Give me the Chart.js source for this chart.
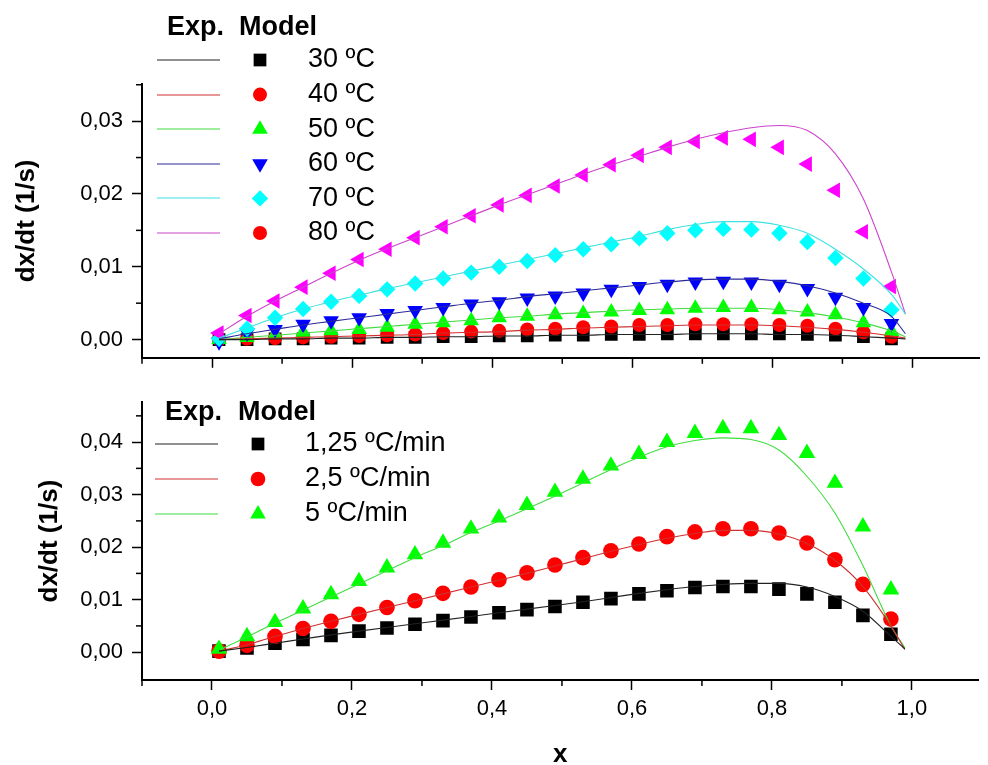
<!DOCTYPE html>
<html>
<head>
<meta charset="utf-8">
<script src="https://cdn.jsdelivr.net/npm/chart.js@4.4.1/dist/chart.umd.min.js"></script>
<style>
  body { margin: 0; background: #fff; }
  #wrap { position: relative; width: 988px; height: 765px; }
  canvas { position: absolute; left: 0; }
</style>
</head>
<body>
<div id="wrap">
  <canvas id="topChart" width="988" height="380" style="top:0"></canvas>
  <canvas id="bottomChart" width="988" height="385" style="top:380px"></canvas>
</div>
<script>
/* ===== DATA ===== */
const xExp = [0.01, 0.05, 0.09, 0.13, 0.17, 0.21, 0.25, 0.29, 0.33, 0.37, 0.41, 0.45, 0.49,
              0.53, 0.57, 0.61, 0.65, 0.69, 0.73, 0.77, 0.81, 0.85, 0.89, 0.93, 0.97];
const xModel = [0.01, 0.05, 0.09, 0.13, 0.17, 0.21, 0.25, 0.29, 0.33, 0.37, 0.41, 0.45, 0.49,
                0.53, 0.57, 0.61, 0.65, 0.69, 0.73, 0.77, 0.81, 0.85, 0.89, 0.93, 0.97, 0.99];

// top panel: temperatures
const topLabels = ["30 ºC", "40 ºC", "50 ºC", "60 ºC", "70 ºC", "80 ºC"];
const exp30 = [0.0000, 0.0000, 0.0001, 0.0001, 0.0002, 0.0002, 0.0003, 0.0003, 0.0004, 0.0004, 0.0005, 0.0005, 0.0006, 0.0006, 0.0007, 0.0007, 0.0008, 0.0008, 0.0008, 0.0008, 0.0008, 0.0007, 0.0006, 0.0004, 0.0001];
const model30 = [0.0000, 0.0000, 0.0001, 0.0001, 0.0002, 0.0002, 0.0003, 0.0003, 0.0004, 0.0004, 0.0005, 0.0005, 0.0006, 0.0006, 0.0007, 0.0007, 0.0007, 0.0008, 0.0008, 0.0008, 0.0007, 0.0007, 0.0006, 0.0004, 0.0002, 0.0001];
const exp40 = [0.0000, 0.0001, 0.0002, 0.0003, 0.0004, 0.0005, 0.0006, 0.0007, 0.0009, 0.0011, 0.0012, 0.0014, 0.0015, 0.0017, 0.0018, 0.0020, 0.0020, 0.0021, 0.0021, 0.0021, 0.0020, 0.0019, 0.0015, 0.0010, 0.0004];
const model40 = [0.0000, 0.0001, 0.0002, 0.0003, 0.0004, 0.0005, 0.0006, 0.0007, 0.0009, 0.0010, 0.0011, 0.0013, 0.0014, 0.0016, 0.0017, 0.0018, 0.0019, 0.0020, 0.0020, 0.0020, 0.0019, 0.0017, 0.0014, 0.0010, 0.0005, 0.0002];
const exp50 = [0.0000, 0.0003, 0.0007, 0.0010, 0.0012, 0.0014, 0.0017, 0.0021, 0.0023, 0.0026, 0.0030, 0.0032, 0.0034, 0.0036, 0.0038, 0.0040, 0.0041, 0.0043, 0.0044, 0.0044, 0.0041, 0.0038, 0.0034, 0.0023, 0.0011];
const model50 = [0.0000, 0.0003, 0.0006, 0.0009, 0.0012, 0.0015, 0.0018, 0.0021, 0.0024, 0.0027, 0.0030, 0.0032, 0.0035, 0.0037, 0.0039, 0.0041, 0.0042, 0.0043, 0.0043, 0.0043, 0.0041, 0.0037, 0.0031, 0.0023, 0.0012, 0.0004];
const exp60 = [-0.0003, 0.0009, 0.0014, 0.0021, 0.0026, 0.0030, 0.0036, 0.0040, 0.0044, 0.0049, 0.0052, 0.0057, 0.0060, 0.0064, 0.0069, 0.0073, 0.0076, 0.0079, 0.0080, 0.0079, 0.0076, 0.0070, 0.0058, 0.0044, 0.0022];
const model60 = [0.0001, 0.0008, 0.0014, 0.0020, 0.0025, 0.0030, 0.0035, 0.0040, 0.0045, 0.0050, 0.0054, 0.0059, 0.0063, 0.0067, 0.0071, 0.0075, 0.0079, 0.0082, 0.0083, 0.0083, 0.0080, 0.0074, 0.0064, 0.0050, 0.0032, 0.0008];
const exp70 = [0.0001, 0.0015, 0.0030, 0.0042, 0.0052, 0.0060, 0.0069, 0.0077, 0.0084, 0.0092, 0.0100, 0.0108, 0.0116, 0.0124, 0.0131, 0.0139, 0.0146, 0.0150, 0.0152, 0.0151, 0.0146, 0.0134, 0.0112, 0.0084, 0.0041];
const model70 = [0.0002, 0.0016, 0.0030, 0.0042, 0.0052, 0.0061, 0.0070, 0.0078, 0.0086, 0.0094, 0.0102, 0.0110, 0.0118, 0.0126, 0.0134, 0.0142, 0.0151, 0.0158, 0.0162, 0.0162, 0.0157, 0.0146, 0.0124, 0.0097, 0.0062, 0.0035];
const exp80 = [0.0009, 0.0033, 0.0053, 0.0072, 0.0091, 0.0110, 0.0124, 0.0140, 0.0155, 0.0170, 0.0185, 0.0198, 0.0211, 0.0226, 0.0240, 0.0253, 0.0264, 0.0272, 0.0277, 0.0275, 0.0264, 0.0241, 0.0205, 0.0148, 0.0073];
const model80 = [0.0008, 0.0032, 0.0053, 0.0072, 0.0091, 0.0109, 0.0125, 0.0140, 0.0155, 0.0170, 0.0185, 0.0199, 0.0213, 0.0227, 0.0240, 0.0252, 0.0264, 0.0275, 0.0284, 0.0291, 0.0294, 0.0287, 0.0255, 0.0193, 0.0093, 0.0035];

// bottom panel: heating rates
const bottomLabels = ["1,25 ºC/min", "2,5 ºC/min", "5 ºC/min"];
const exp125 = [0.0002, 0.0008, 0.0017, 0.0024, 0.0032, 0.0040, 0.0046, 0.0053, 0.0060, 0.0067, 0.0075, 0.0081, 0.0087, 0.0095, 0.0102, 0.0111, 0.0117, 0.0123, 0.0125, 0.0125, 0.0120, 0.0111, 0.0095, 0.0070, 0.0034];
const model125 = [0.0002, 0.0009, 0.0017, 0.0025, 0.0033, 0.0040, 0.0047, 0.0054, 0.0061, 0.0068, 0.0075, 0.0082, 0.0089, 0.0096, 0.0104, 0.0112, 0.0119, 0.0125, 0.0129, 0.0131, 0.0131, 0.0124, 0.0106, 0.0078, 0.0030, 0.0006];
const exp25 = [0.0002, 0.0013, 0.0030, 0.0045, 0.0059, 0.0072, 0.0085, 0.0098, 0.0112, 0.0124, 0.0138, 0.0151, 0.0166, 0.0180, 0.0193, 0.0206, 0.0220, 0.0229, 0.0235, 0.0235, 0.0227, 0.0208, 0.0176, 0.0129, 0.0063];
const model25 = [0.0002, 0.0014, 0.0030, 0.0045, 0.0059, 0.0072, 0.0085, 0.0098, 0.0111, 0.0124, 0.0137, 0.0150, 0.0164, 0.0178, 0.0192, 0.0205, 0.0217, 0.0226, 0.0232, 0.0232, 0.0225, 0.0207, 0.0175, 0.0125, 0.0050, 0.0005];
const exp5 = [0.0006, 0.0030, 0.0057, 0.0083, 0.0110, 0.0135, 0.0161, 0.0186, 0.0208, 0.0235, 0.0256, 0.0280, 0.0305, 0.0330, 0.0355, 0.0377, 0.0400, 0.0417, 0.0426, 0.0426, 0.0413, 0.0379, 0.0322, 0.0239, 0.0119];
const model5 = [0.0004, 0.0029, 0.0055, 0.0080, 0.0105, 0.0130, 0.0155, 0.0180, 0.0203, 0.0228, 0.0250, 0.0273, 0.0297, 0.0322, 0.0348, 0.0371, 0.0391, 0.0403, 0.0408, 0.0405, 0.0385, 0.0335, 0.0265, 0.0165, 0.0050, 0.0008];

// ticks
const xMajor = [0, 0.2, 0.4, 0.6, 0.8, 1.0];
const xMinor = [-0.1, 0.1, 0.3, 0.5, 0.7, 0.9];
const topYMajor = [0, 0.01, 0.02, 0.03];
const topYMinor = [0.005, 0.015, 0.025, 0.035];
const bottomYMajor = [0, 0.01, 0.02, 0.03, 0.04];
const bottomYMinor = [0.005, 0.015, 0.025, 0.035, 0.045];

/* ===== STYLE ===== */
const FONT = '"Liberation Sans", Arial, sans-serif';
const C = { black: "#000000", red: "#ff0000", green: "#00ff00", blue: "#0000ff", cyan: "#00ffff", magenta: "#ff00ff" };
const L = { black: "#222222", red: "#d03030", green: "#40dd40", blue: "#2a2a9a", cyan: "#3ee0e0", magenta: "#cc44cc" };

function expSet(values, color, style, radius, rotation, order) {
    return {
        data: xExp.map((x, i) => ({ x, y: values[i] })),
        showLine: false,
        pointStyle: style,
        pointRadius: radius,
        pointRotation: rotation,
        pointBackgroundColor: color,
        backgroundColor: color,
        pointBorderWidth: 0,
        borderWidth: 0,
        order
    };
}

function modelSet(values, color) {
    return {
        data: xModel.map((x, i) => ({ x, y: values[i] })),
        showLine: true,
        pointRadius: 0,
        borderColor: color,
        borderWidth: 1.1,
        cubicInterpolationMode: "monotone",
        order: 0
    };
}

/* ===== PLUGINS ===== */
const legendPlugin = {
    id: "expModelLegend",
    afterDraw(chart, args, o) {
        const ctx = chart.ctx;
        ctx.save();
        ctx.fillStyle = "#000";
        ctx.font = "bold 27px " + FONT;
        ctx.textBaseline = "alphabetic";
        ctx.fillText("Exp.", o.expX, o.headerY);
        ctx.fillText("Model", o.modelX, o.headerY);
        o.items.forEach((it, i) => {
            const y = o.rowY + i * o.rowGap;
            ctx.strokeStyle = it.line;
            ctx.lineWidth = 1.1;
            ctx.beginPath();
            ctx.moveTo(o.lineX, Math.round(y));
            ctx.lineTo(o.lineX + 63, Math.round(y));
            ctx.stroke();
            ctx.fillStyle = it.color;
            Chart.helpers.drawPoint(ctx, { pointStyle: it.style, radius: it.radius, rotation: it.rotation || 0, borderWidth: 0 }, o.markX, y);
            ctx.fillStyle = "#000";
            ctx.font = "27px " + FONT;
            ctx.textBaseline = "middle";
            ctx.fillText(it.label, o.textX, y);
        });
        ctx.restore();
    }
};

const minorTicks = {
    id: "minorTicks",
    afterDraw(chart, args, o) {
        const { ctx, chartArea, scales } = chart;
        ctx.save();
        ctx.strokeStyle = "#000";
        ctx.lineWidth = 1.5;
        o.x.forEach(v => {
            const px = scales.x.getPixelForValue(v);
            ctx.beginPath();
            ctx.moveTo(px, chartArea.bottom);
            ctx.lineTo(px, chartArea.bottom + 6);
            ctx.stroke();
        });
        o.y.forEach(v => {
            const py = scales.y.getPixelForValue(v);
            ctx.beginPath();
            ctx.moveTo(chartArea.left - 6, py);
            ctx.lineTo(chartArea.left, py);
            ctx.stroke();
        });
        ctx.restore();
    }
};

/* ===== OPTIONS ===== */
function buildOptions(cfg) {
    return {
        responsive: false,
        animation: false,
        events: [],
        layout: { padding: { top: cfg.padTop, left: 0, right: 0, bottom: 0 } },
        plugins: {
            legend: { display: false },
            tooltip: { enabled: false },
            expModelLegend: cfg.legend,
            minorTicks: { x: xMinor, y: cfg.yMinor }
        },
        scales: {
            x: {
                type: "linear",
                min: -0.1,
                max: 1.095,
                afterBuildTicks: s => { s.ticks = xMajor.map(v => ({ value: v })); },
                afterFit: s => { s.height = cfg.xHeight; },
                grid: { display: true, drawOnChartArea: false, drawTicks: true, tickLength: 10, tickWidth: 1.5, tickColor: "#000" },
                border: { display: true, color: "#000", width: 2 },
                ticks: {
                    padding: 6,
                    color: "#000",
                    font: { size: 22, family: FONT },
                    maxRotation: 0,
                    callback: v => cfg.xLabels ? v.toFixed(1).replace(".", ",") : ""
                },
                title: {
                    display: cfg.xLabels,
                    text: "x",
                    color: "#000",
                    font: { size: 26, weight: "bold", family: FONT, lineHeight: 0.8 },
                    padding: { top: 0, bottom: 0 }
                }
            },
            y: {
                type: "linear",
                min: cfg.yMin,
                max: cfg.yMax,
                afterBuildTicks: s => { s.ticks = cfg.yMajor.map(v => ({ value: v })); },
                afterFit: s => { s.width = 142; },
                grid: { display: true, drawOnChartArea: false, drawTicks: true, tickLength: 10, tickWidth: 1.5, tickColor: "#000" },
                border: { display: true, color: "#000", width: 2 },
                ticks: {
                    padding: 9,
                    color: "#000",
                    font: { size: 22, family: FONT },
                    callback: v => v.toFixed(2).replace(".", ",")
                },
                title: {
                    display: true,
                    text: "dx/dt (1/s)",
                    color: "#000",
                    font: { size: 26, weight: "bold", family: FONT, lineHeight: 1.2 },
                    padding: { top: cfg.yTitlePad, bottom: 0 }
                }
            }
        }
    };
}

/* ===== TOP CHART ===== */
new Chart(document.getElementById("topChart"), {
    type: "scatter",
    data: {
        datasets: [
            modelSet(model30, L.black),
            modelSet(model40, L.red),
            modelSet(model50, L.green),
            modelSet(model60, L.blue),
            modelSet(model70, L.cyan),
            modelSet(model80, L.magenta),
            expSet(exp30, C.black, "rect", 9, 0, 16),
            expSet(exp40, C.red, "circle", 7, 0, 15),
            expSet(exp50, C.green, "triangle", 9, 0, 14),
            expSet(exp60, C.blue, "triangle", 9, 180, 13),
            expSet(exp70, C.cyan, "rectRot", 8.2, 0, 12),
            expSet(exp80, C.magenta, "triangle", 9, 270, 11)
        ]
    },
    options: buildOptions({
        padTop: 84, xHeight: 16, xLabels: false,
        yMin: -0.0025, yMax: 0.0351, yMajor: topYMajor, yMinor: topYMinor, yTitlePad: 11,
        legend: {
            expX: 167, modelX: 239, headerY: 35, lineX: 157, markX: 260, textX: 308, rowY: 60, rowGap: 34.6,
            items: [
                { label: topLabels[0], line: L.black, color: C.black, style: "rect", radius: 9 },
                { label: topLabels[1], line: L.red, color: C.red, style: "circle", radius: 7 },
                { label: topLabels[2], line: L.green, color: C.green, style: "triangle", radius: 9 },
                { label: topLabels[3], line: L.blue, color: C.blue, style: "triangle", radius: 9, rotation: 180 },
                { label: topLabels[4], line: L.cyan, color: C.cyan, style: "rectRot", radius: 8.2 },
                { label: topLabels[5], line: L.magenta, color: C.red, style: "circle", radius: 7 }
            ]
        }
    }),
    plugins: [minorTicks, legendPlugin]
});

/* ===== BOTTOM CHART ===== */
new Chart(document.getElementById("bottomChart"), {
    type: "scatter",
    data: {
        datasets: [
            modelSet(model125, L.black),
            modelSet(model25, L.red),
            modelSet(model5, L.green),
            expSet(exp125, C.black, "rect", 9.6, 0, 13),
            expSet(exp25, C.red, "circle", 7.8, 0, 12),
            expSet(exp5, C.green, "triangle", 9.6, 0, 11)
        ]
    },
    options: buildOptions({
        padTop: 20, xHeight: 85, xLabels: true,
        yMin: -0.0053, yMax: 0.0476, yMajor: bottomYMajor, yMinor: bottomYMinor, yTitlePad: 34,
        legend: {
            expX: 165, modelX: 238, headerY: 40, lineX: 155, markX: 258, textX: 305, rowY: 64, rowGap: 35,
            items: [
                { label: bottomLabels[0], line: L.black, color: C.black, style: "rect", radius: 9 },
                { label: bottomLabels[1], line: L.red, color: C.red, style: "circle", radius: 7.3 },
                { label: bottomLabels[2], line: L.green, color: C.green, style: "triangle", radius: 9 }
            ]
        }
    }),
    plugins: [minorTicks, legendPlugin]
});
</script>
</body>
</html>
